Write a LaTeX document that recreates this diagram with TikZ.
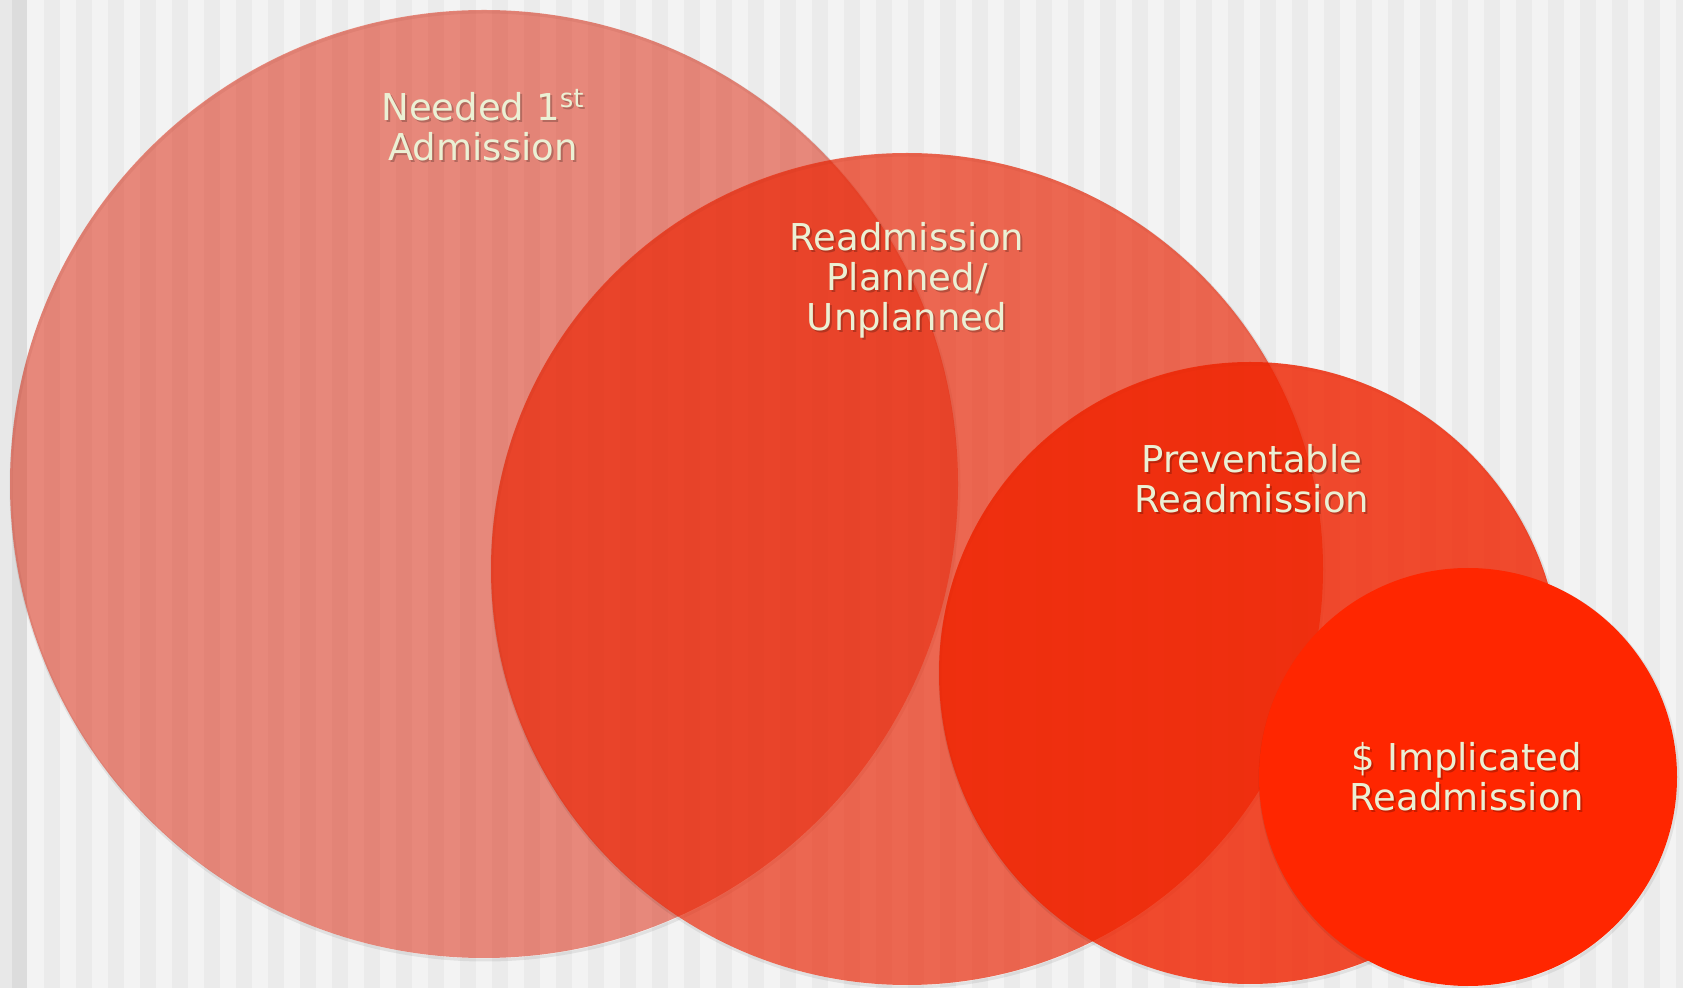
\documentclass[tikz,border=0pt]{standalone}
\usepackage{fontspec}
\setmainfont{DejaVu Sans}
\begin{document}
\begin{tikzpicture}[x=0.5pt,y=-0.5pt]
% palette
\definecolor{bgLight}{HTML}{F3F3F3}
\definecolor{bgMid}{HTML}{EBEBEB}
\definecolor{bgDark}{HTML}{DCDCDC}
\definecolor{bgEdge}{HTML}{E8E8E8}
\definecolor{setA}{RGB}{222,49,25}
\definecolor{setB}{RGB}{234,37,5}
\definecolor{setC}{RGB}{240,35,0}
\definecolor{setD}{RGB}{255,38,0}
\definecolor{labeltext}{HTML}{EBF0D4}
\tikzset{
  setlabel/.style={text=labeltext, align=center, inner sep=0pt,
    font=\fontsize{18.5}{20}\selectfont},
  setshadow/.style={setlabel, text=black, text opacity=0.22},
  rim/.style={draw=black, draw opacity=0.07, line width=1.5pt},
}
\useasboundingbox (0,0) rectangle (1683,988);

% striped backdrop
\fill[bgLight] (0,0) rectangle (1683,988);
\fill[bgEdge] (0,0) rectangle (12,988);
\fill[bgDark] (12,0) rectangle (27,988);
\foreach \k in {0,...,51}
  \fill[bgMid] ({44+32*\k},0) rectangle ({60+32*\k},988);

% nested sets, largest first
\draw[rim] (485,486) circle (237pt);
\fill[setA, fill opacity=0.55] (484,484) circle (237pt);

\draw[rim] (908,571) circle (208pt);
\fill[setB, fill opacity=0.68] (907,569) circle (208pt);

\draw[rim] (1251,675) circle (155.5pt);
\fill[setC, fill opacity=0.81] (1250,673) circle (155.5pt);

\draw[rim] (1469,779) circle (104.5pt);
\fill[setD] (1468,777) circle (104.5pt);

% labels with a soft drop shadow
\node[setshadow] at (485,127) {Needed 1\textsuperscript{st}\\Admission};
\node[setlabel] (lblA) at (483,125) {Needed 1\textsuperscript{st}\\Admission};

\node[setshadow] at (909,282) {Readmission\\Planned/\\Unplanned};
\node[setlabel] (lblB) at (907,280) {Readmission\\Planned/\\Unplanned};

\node[setshadow] at (1254,481) {Preventable\\Readmission};
\node[setlabel] (lblC) at (1252,479) {Preventable\\Readmission};

\node[setshadow] at (1469,779) {\$ Implicated\\Readmission};
\node[setlabel] (lblD) at (1467,777) {\$ Implicated\\Readmission};
\end{tikzpicture}
\end{document}
